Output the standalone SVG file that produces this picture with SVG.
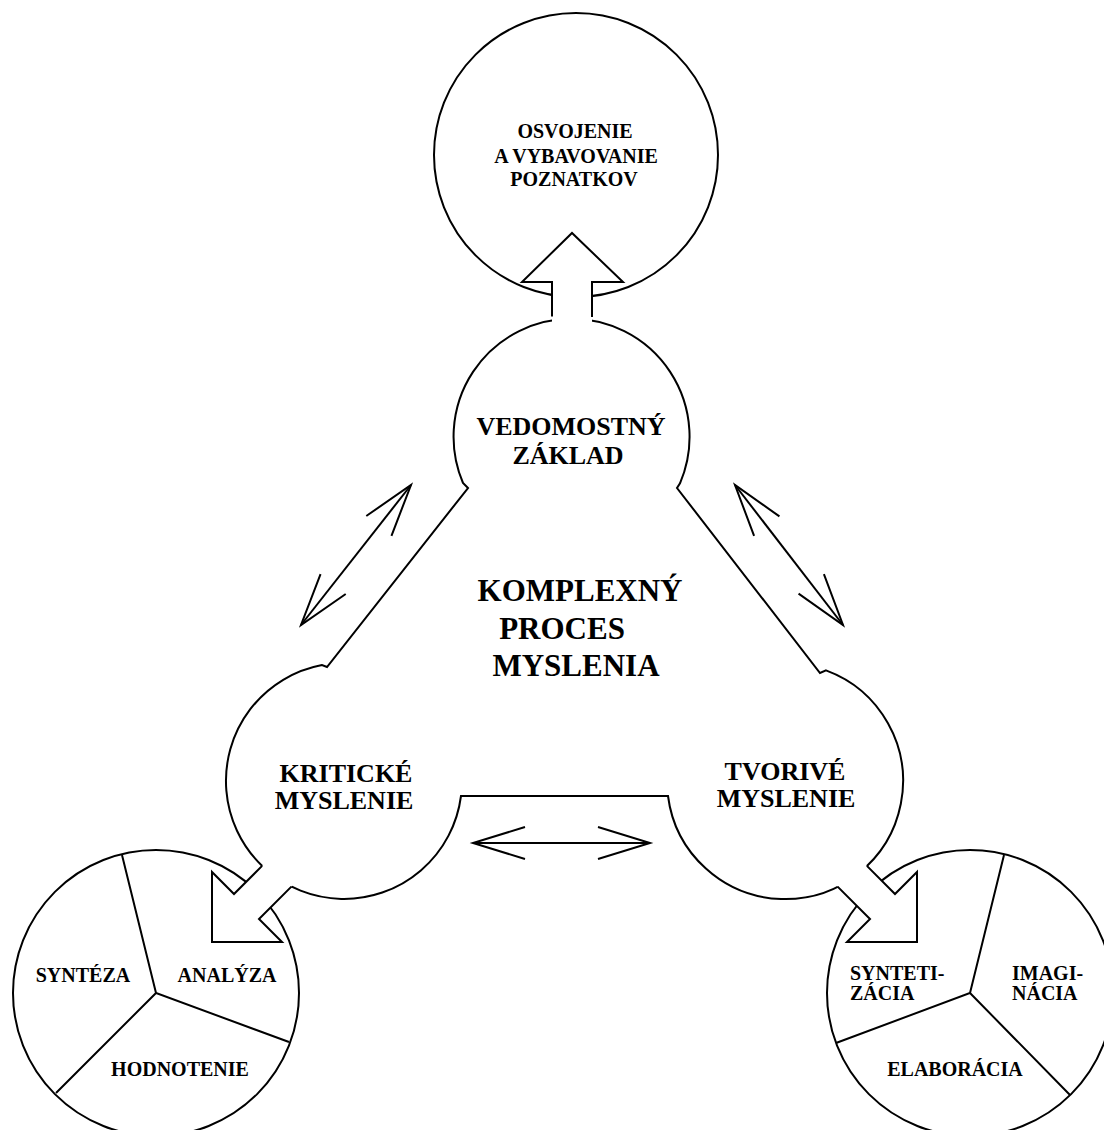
<svg xmlns="http://www.w3.org/2000/svg" width="1104" height="1130" viewBox="0 0 1104 1130">
<defs>
<style>
.o{fill:#fff;stroke:#000;stroke-width:2;stroke-linejoin:miter}
.l{fill:none;stroke:#000;stroke-width:2;stroke-linejoin:miter}
.w{fill:#fff;stroke:none}
.t{font-family:"Liberation Serif","Times New Roman",serif;font-weight:bold;fill:#000}
.s{font-size:20px}
.m{font-size:26px}
.b{font-size:31px}
.c{text-anchor:middle}
</style>
<marker id="ah" markerUnits="userSpaceOnUse" viewBox="0 0 52 32" markerWidth="52" markerHeight="32" refX="52" refY="16" orient="auto-start-reverse" overflow="visible">
<path d="M0,0 L52,16 L0,32" fill="none" stroke="#000" stroke-width="2"/>
</marker>
</defs>
<rect width="1104" height="1130" fill="#fff"/>

<g id="top-circle">
<circle class="o" cx="576" cy="155" r="142"/>
<text class="t s c" x="575" y="138">OSVOJENIE</text>
<text class="t s c" x="576" y="163">A VYBAVOVANIE</text>
<text class="t s c" x="574" y="186">POZNATKOV</text>
</g>

<g id="process">
<path class="o" d="M468,488 L463,483 A118,118 0 1 1 680,483.3 L677,488 L820,673 L826,670.4 A118,118 0 1 1 668,796 L461,796 A118,118 0 1 1 322,665 L327,667 Z"/>
<text class="t m c" x="571" y="435">VEDOMOSTNÝ</text>
<text class="t m c" x="568" y="464">ZÁKLAD</text>
<text class="t b c" x="580" y="601">KOMPLEXNÝ</text>
<text class="t b c" x="562" y="639">PROCES</text>
<text class="t b c" x="576" y="676">MYSLENIA</text>
<text class="t m c" x="346" y="782">KRITICKÉ</text>
<text class="t m c" x="344" y="809">MYSLENIE</text>
<text class="t m c" x="785" y="780">TVORIVÉ</text>
<text class="t m c" x="786" y="807">MYSLENIE</text>
</g>

<g id="critical-circle">
<circle class="o" cx="156" cy="993" r="143"/>
<path class="l" d="M122,855 L156,993 L289,1042 M156,993 L56,1093"/>
<text class="t s c" x="83" y="982">SYNTÉZA</text>
<text class="t s c" x="227" y="982">ANALÝZA</text>
<text class="t s c" x="180" y="1076">HODNOTENIE</text>
</g>

<g id="creative-circle">
<circle class="o" cx="970" cy="993" r="143"/>
<path class="l" d="M1004,855 L970,993 L836,1043 M970,993 L1070,1095"/>
<text class="t s" x="850" y="980">SYNTETI-</text>
<text class="t s" x="850" y="1000">ZÁCIA</text>
<text class="t s" x="1012" y="980">IMAGI-</text>
<text class="t s" x="1012" y="1000">NÁCIA</text>
<text class="t s c" x="955" y="1076">ELABORÁCIA</text>
</g>

<g id="connectors">
<polygon class="w" points="572,233 623,282 592,282 592,332 552,332 552,282 522,282"/>
<polyline class="l" points="552,316.5 552,282 522,282 572,233 623,282 592,282 592,316.9"/>
<polygon class="w" points="212,942 212,872 234,894 262.1,865.9 275,853 304,874 291.4,886.6 259,919 282,942"/>
<polyline class="l" points="262.1,865.9 234,894 212,872 212,942 282,942 259,919 291.4,886.6"/>
<polygon class="w" points="917,942 917,872 895,894 866.9,865.9 854,853 825,874 837.6,886.6 870,919 847,942"/>
<polyline class="l" points="866.9,865.9 895,894 917,872 917,942 847,942 870,919 837.6,886.6"/>
<line class="l" x1="301" y1="625" x2="411" y2="485" marker-start="url(#ah)" marker-end="url(#ah)"/>
<line class="l" x1="735" y1="485" x2="843" y2="625" marker-start="url(#ah)" marker-end="url(#ah)"/>
<line class="l" x1="473" y1="843" x2="650" y2="843" marker-start="url(#ah)" marker-end="url(#ah)"/>
</g>
</svg>
